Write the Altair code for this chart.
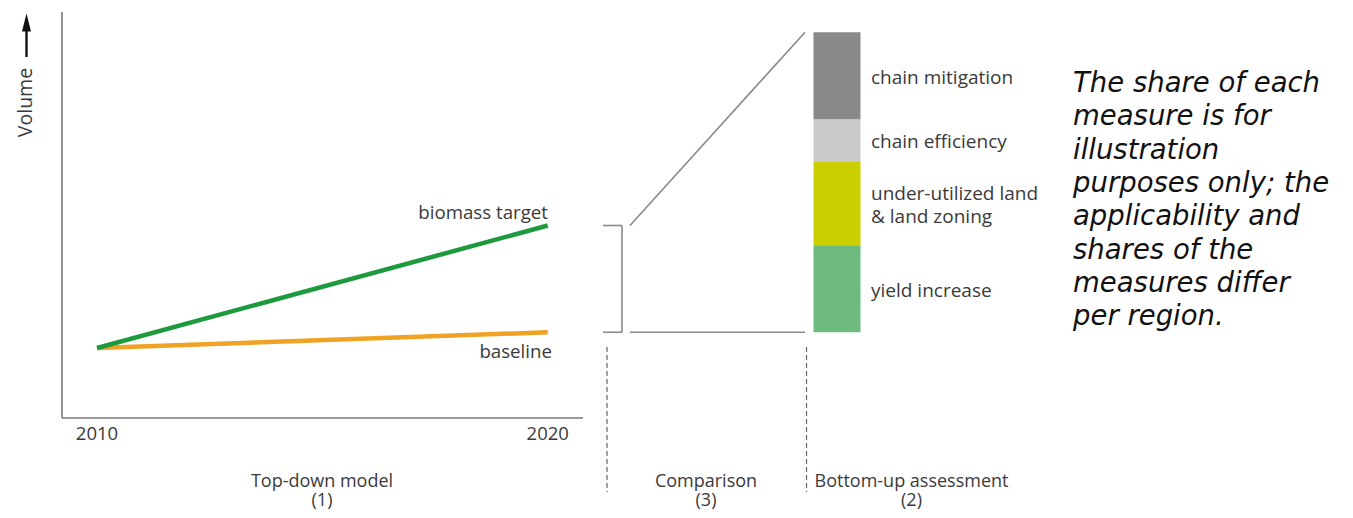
import altair as alt
import pandas as pd

# ---------------- data ----------------
years = [2010, 2020]
baseline_vals = [20.0, 24.5]
target_vals = [20.0, 55.0]
series_names = ["baseline", "biomass target"]
series_colors = ["#f0a224", "#1e9a3e"]

measures = ["yield increase", "under-utilized land & land zoning", "chain efficiency", "chain mitigation"]
measure_labels = [["yield increase"], ["under-utilized land", "& land zoning"], ["chain efficiency"], ["chain mitigation"]]
shares = [29, 28, 14, 29]
measure_colors = ["#6dbb7f", "#cbcf00", "#c8cacb", "#87898b"]

note_lines = ["The share of each", "measure is for", "illustration", "purposes only;  the",
              "applicability and", "shares of the", "measures  differ", "per region."]
section_titles = [["Top-down model", "(1)"], ["Comparison", "(3)"], ["Bottom-up assessment", "(2)"]]

# ---------------- layout (scale set-up) ----------------
W, H = 1337, 502
KX = 45.07          # px per year
X0 = 2008.025       # year at left edge of canvas
KY = 3.5            # px per volume unit
Y_TOP = (418 - 8) / KY
Y_BOT = (418 - 510) / KY

def px_x(p):
    return X0 + (p - 8) / KX

def px_y(p):
    return (418 - p) / KY

xs = alt.Scale(domain=[X0, X0 + W / KX], nice=False, zero=False)
ys = alt.Scale(domain=[Y_BOT, Y_TOP], nice=False, zero=False)

FONT = "Open Sans"
TXT = "#3a3a3a"
GREY = "#8a8a8a"

def X(f, **kw):
    return alt.X(f, type="quantitative", scale=xs, axis=None, **kw)

def Y(f, **kw):
    return alt.Y(f, type="quantitative", scale=ys, axis=None, **kw)

# ---------------- lines ----------------
rows = []
for name, col, vals in zip(series_names, series_colors, [baseline_vals, target_vals]):
    for yr, v in zip(years, vals):
        rows.append({"year": yr, "value": v, "series": name, "col": col})
lines_df = pd.DataFrame(rows)
lines = alt.Chart(lines_df).mark_line(strokeWidth=4.5, strokeCap="butt").encode(
    x=X("year"), y=Y("value"),
    color=alt.Color("col:N", scale=None),
    order=alt.Order("year:Q"),
    detail="series:N",
)

# axes drawn as rules
axes_df = pd.DataFrame([
    {"x": px_x(62), "x2": px_x(62), "y": 0, "y2": px_y(12)},
    {"x": px_x(62), "x2": px_x(583), "y": 0, "y2": 0},
])
axes = alt.Chart(axes_df).mark_rule(color="#7a7a7a", strokeWidth=1.6).encode(
    x=X("x"), x2="x2", y=Y("y"), y2="y2")

year_lbl = alt.Chart(pd.DataFrame({"year": years, "v": [px_y(434)] * 2, "t": [str(y) for y in years]})).mark_text(
    font=FONT, fontSize=18.5, color=TXT, align="center", baseline="middle").encode(
    x=X("year"), y=Y("v"), text="t:N")

# volume arrow
arrow_df = pd.DataFrame([{"x": px_x(26.5), "y": px_y(57), "y2": px_y(28)}])
arrow_line = alt.Chart(arrow_df).mark_rule(color="#111", strokeWidth=2.4).encode(
    x=X("x"), y=Y("y"), y2="y2")
arrow_head = alt.Chart(pd.DataFrame([{"x": px_x(26.5), "y": px_y(22.5)}])).mark_point(
    shape="M-0.5,1 L0,-1 L0.5,1 Z", size=324, filled=True, color="#111", opacity=1).encode(
    x=X("x"), y=Y("y"))
vol_lbl = alt.Chart(pd.DataFrame([{"x": px_x(25.5), "y": px_y(102.5), "t": "Volume"}])).mark_text(
    font=FONT, fontSize=19.5, color=TXT, angle=270, align="center", baseline="middle").encode(
    x=X("x"), y=Y("y"), text="t:N")

# series labels
ser_lbl_df = pd.DataFrame([
    {"x": px_x(548), "y": target_vals[1] + (225 - 212) / KY, "t": "biomass target"},
    {"x": px_x(552), "y": baseline_vals[1] - (352 - 332) / KY, "t": "baseline"},
])
ser_lbl = alt.Chart(ser_lbl_df).mark_text(font=FONT, fontSize=18.7, color=TXT, align="right", baseline="middle").encode(
    x=X("x"), y=Y("y"), text="t:N")

# ---------------- comparison ----------------
gap_top = target_vals[1]
gap_bot = baseline_vals[1]
bar_span = 300 / KY
bar_top = gap_bot + bar_span
conn_df = pd.DataFrame([
    {"x": px_x(603), "x2": px_x(622), "y": gap_top, "y2": gap_top},
    {"x": px_x(603), "x2": px_x(622), "y": gap_bot, "y2": gap_bot},
    {"x": px_x(622), "x2": px_x(622), "y": gap_top, "y2": gap_bot},
    {"x": px_x(630), "x2": px_x(805), "y": gap_top, "y2": bar_top},
    {"x": px_x(630), "x2": px_x(805), "y": gap_bot, "y2": gap_bot},
])
conn = alt.Chart(conn_df).mark_rule(color=GREY, strokeWidth=1.6).encode(
    x=X("x"), x2="x2", y=Y("y"), y2="y2")

dash_df = pd.DataFrame([
    {"x": px_x(607), "y": px_y(347), "y2": px_y(492)},
    {"x": px_x(806.5), "y": px_y(347), "y2": px_y(492)},
])
dashes = alt.Chart(dash_df).mark_rule(color="#666", strokeWidth=1.2, strokeDash=[5, 3]).encode(
    x=X("x"), y=Y("y"), y2="y2")

# ---------------- stacked bar ----------------
LH = 23.5
bar_rows, lbl_rows = [], []
acc = gap_bot
for m, s, labs, c in zip(measures, shares, measure_labels, measure_colors):
    h = s / 100 * bar_span
    bar_rows.append({"m": m, "col": c, "x": px_x(813.5), "x2": px_x(860.5), "y": acc, "y2": acc + h})
    lbl_rows.append({"x": px_x(871), "y": acc + h / 2 - 2 / KY + (len(labs) - 1) / 2 * LH / KY, "t": labs})
    acc += h
bar = alt.Chart(pd.DataFrame(bar_rows)).mark_rect().encode(
    x=X("x"), x2="x2", y=Y("y"), y2="y2",
    color=alt.Color("col:N", scale=None))
bar_lbl = alt.Chart(pd.DataFrame(lbl_rows)).mark_text(
    font=FONT, fontSize=19, color=TXT, align="left", baseline="middle", lineHeight=LH).encode(
    x=X("x"), y=Y("y"), text="t:N")

# ---------------- section titles ----------------
sec_x = [322, 706, 911.5]
sec_rows = [{"x": px_x(cx), "y": px_y(486.5), "t": pair} for cx, pair in zip(sec_x, section_titles)]
sec = alt.Chart(pd.DataFrame(sec_rows)).mark_text(
    font=FONT, fontSize=18, color=TXT, align="center", baseline="alphabetic", lineHeight=19.5).encode(
    x=X("x"), y=Y("y"), text="t:N")

# ---------------- note ----------------
note_df = pd.DataFrame({"t": note_lines,
                        "x": [px_x(1073)] * len(note_lines),
                        "y": [px_y(84 + 33.3 * i) for i in range(len(note_lines))]})
note = alt.Chart(note_df).mark_text(
    font="DejaVu Sans", fontStyle="italic", fontSize=27.5, color="#111", align="left", baseline="middle").encode(
    x=X("x"), y=Y("y"), text="t:N")

chart = alt.layer(
    axes, lines, year_lbl, arrow_line, arrow_head, vol_lbl, ser_lbl,
    conn, dashes, bar, bar_lbl, sec, note
).properties(
    width=W, height=H, padding=0,
    autosize=alt.AutoSizeParams(type="none"),
).configure_view(stroke=None)

chart.save("out.html", embed_options={"renderer": "svg", "actions": False})
